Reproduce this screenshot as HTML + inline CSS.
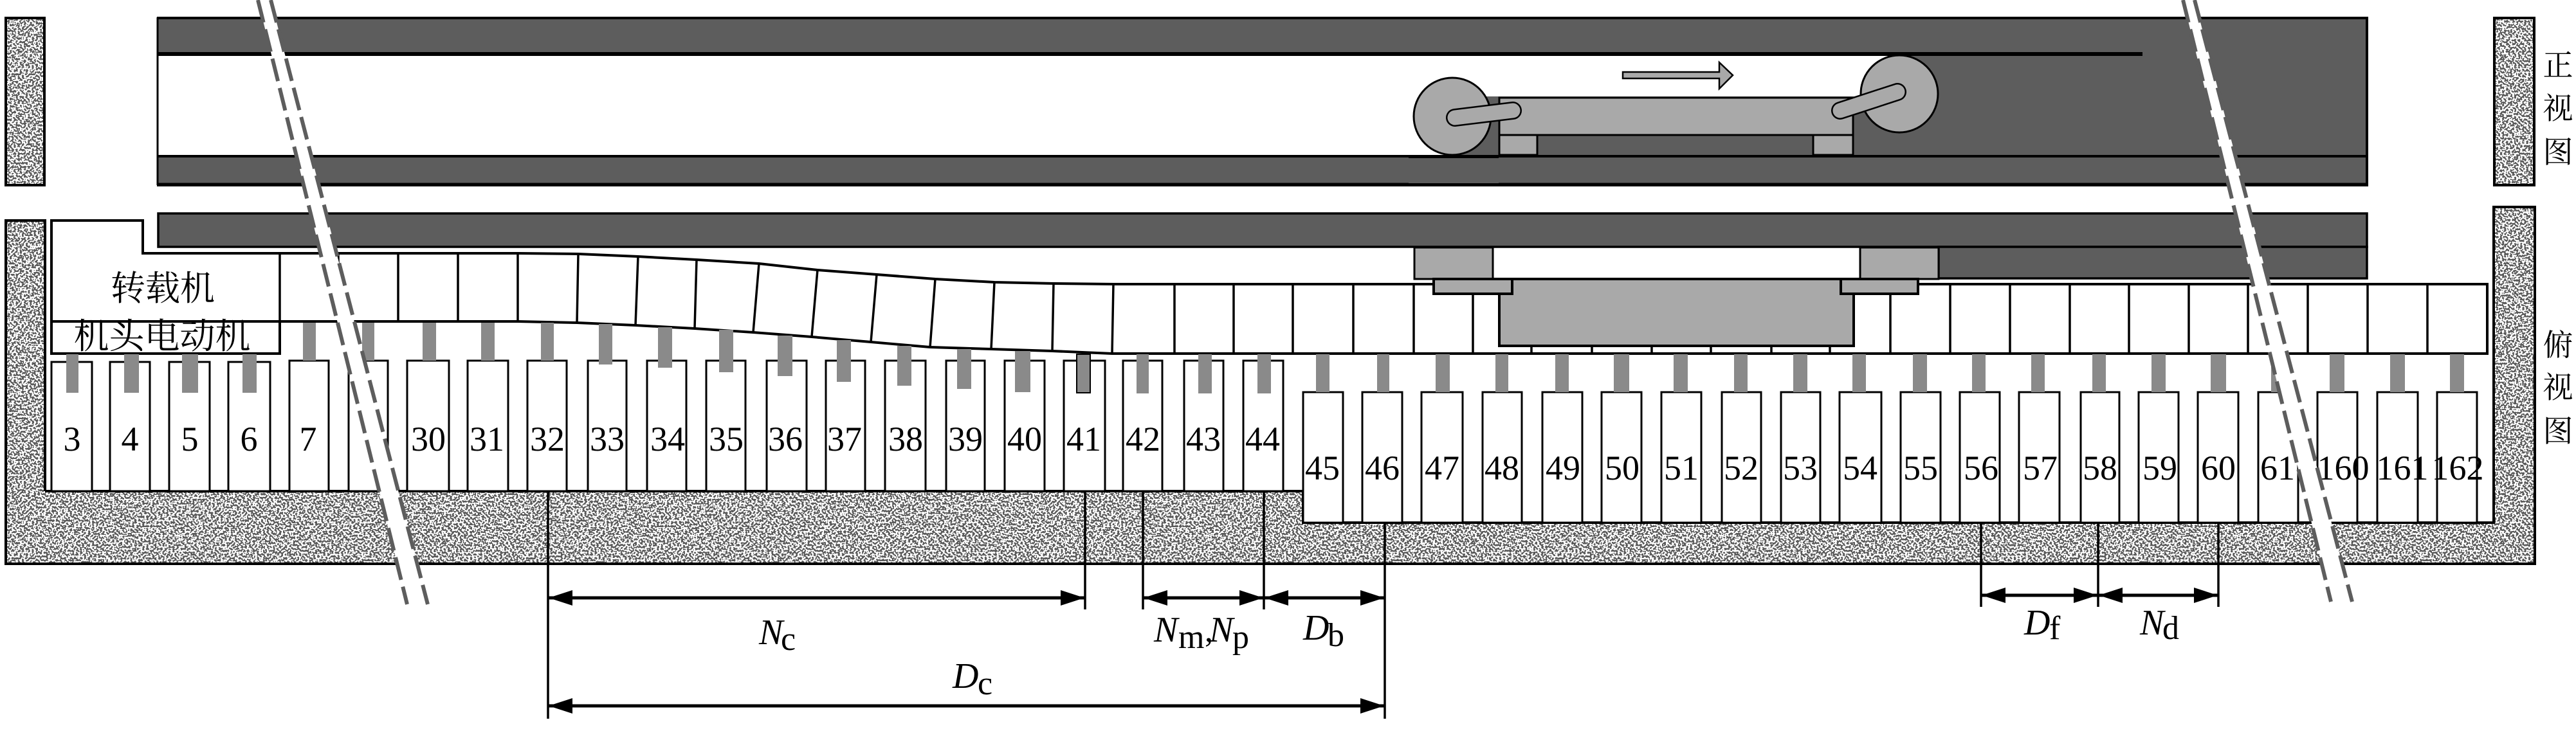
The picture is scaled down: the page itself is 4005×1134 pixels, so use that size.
<!DOCTYPE html>
<html lang="zh">
<head>
<meta charset="utf-8">
<title>Diagram</title>
<style>
html,body{margin:0;padding:0;background:#fff}
svg{display:block}
.n{font-family:"Liberation Serif",serif;font-size:54px;text-anchor:middle;fill:#000}
.i{font-family:"Liberation Serif",serif;font-size:56px;font-style:italic;fill:#000}
.s{font-family:"Liberation Serif",serif;font-size:52px;fill:#000}
.c{font-family:"Liberation Serif","Noto Serif CJK SC",serif;font-size:54px;text-anchor:middle;fill:#000}
.v{font-family:"Liberation Serif","Noto Serif CJK SC",serif;font-size:47px;text-anchor:middle;fill:#000}
</style>
</head>
<body>
<svg xmlns="http://www.w3.org/2000/svg" width="4005" height="1134" viewBox="0 0 4005 1134">
<defs>
<filter id="sp" x="0" y="0" width="100%" height="100%" color-interpolation-filters="sRGB">
<feTurbulence type="fractalNoise" baseFrequency="0.32 0.34" numOctaves="1" seed="7"/>
<feColorMatrix type="matrix" values="1 0 0 0 0 1 0 0 0 0 1 0 0 0 0 0 0 0 0 1"/>
<feComponentTransfer><feFuncR type="discrete" tableValues="0.36 1"/><feFuncG type="discrete" tableValues="0.36 1"/><feFuncB type="discrete" tableValues="0.36 1"/></feComponentTransfer>
</filter>
</defs>
<rect width="4005" height="1134" fill="#fff"/>

<!-- speckled walls -->
<rect x="8" y="27" width="62" height="261" filter="url(#sp)"/>
<rect x="3877" y="27" width="64" height="261" filter="url(#sp)"/>
<rect x="8" y="343" width="62" height="421" filter="url(#sp)"/>
<rect x="3877" y="322" width="64" height="442" filter="url(#sp)"/>
<rect x="8" y="764" width="3933" height="114" filter="url(#sp)"/>
<g fill="none" stroke="#000" stroke-width="4">
<rect x="9" y="28" width="60" height="260"/>
<rect x="3878" y="28" width="62" height="260"/>
</g>
<rect x="2026" y="762" width="1851" height="51" fill="#fff"/>
<path d="M70,764H2026V813H3877V322H3941V877H9V343H70V764" fill="none" stroke="#000" stroke-width="4"/>

<!-- front view -->
<path d="M2960,85H3680V242H2882V150H2895ZM2270,150H2882V242H2270Z" fill="#5d5d5d"/>
<rect x="246" y="28" width="3433" height="57" fill="#5d5d5d"/>
<rect x="246" y="243" width="3433" height="45" fill="#5d5d5d"/>
<path d="M245,27V288" stroke="#000" stroke-width="3" fill="none"/>
<path d="M244,28H3680V288H244" stroke="#000" stroke-width="4" fill="none"/>
<path d="M245,84H3331" stroke="#000" stroke-width="6"/>
<path d="M245,243H3680" stroke="#000" stroke-width="4"/>
<path d="M244,287H3680" stroke="#000" stroke-width="5"/>

<circle cx="2258" cy="181" r="60" fill="#a9a9a9" stroke="#000" stroke-width="3"/>
<circle cx="2953" cy="146" r="60" fill="#a9a9a9" stroke="#000" stroke-width="3"/>
<rect x="2190" y="242" width="140" height="4" fill="#000"/>
<rect x="2190" y="246" width="140" height="40" fill="#5d5d5d"/>
<rect x="2190" y="285" width="140" height="4" fill="#000"/>
<rect x="2331" y="152" width="550" height="58" fill="#a9a9a9" stroke="#000" stroke-width="3"/>
<rect x="2331" y="210" width="59" height="31" fill="#a9a9a9" stroke="#000" stroke-width="3"/>
<rect x="2819" y="210" width="62" height="31" fill="#a9a9a9" stroke="#000" stroke-width="3"/>
<line x1="2262" y1="183" x2="2352" y2="172" stroke="#000" stroke-width="28" stroke-linecap="round"/>
<line x1="2262" y1="183" x2="2352" y2="172" stroke="#a9a9a9" stroke-width="23" stroke-linecap="round"/>
<line x1="2861" y1="172" x2="2950" y2="143" stroke="#000" stroke-width="28" stroke-linecap="round"/>
<line x1="2861" y1="172" x2="2950" y2="143" stroke="#a9a9a9" stroke-width="23" stroke-linecap="round"/>
<polygon points="2523,112 2673,112 2673,97 2694,117 2673,138 2673,122 2523,122" fill="#a9a9a9" stroke="#000" stroke-width="2.5"/>

<!-- plan view band -->
<rect x="246" y="332" width="3434" height="52" fill="#5d5d5d" stroke="#000" stroke-width="3.5"/>
<rect x="3014" y="384" width="666" height="49" fill="#5d5d5d" stroke="#000" stroke-width="3.5"/>

<!-- boxes row 1 -->
<g fill="#fff" stroke="#000" stroke-width="3">
<rect x="80" y="563" width="63" height="201"/><rect x="171" y="563" width="62" height="201"/><rect x="263" y="563" width="63" height="201"/><rect x="355" y="563" width="65" height="201"/>
<rect x="450" y="561" width="61" height="203"/><rect x="542" y="561" width="61" height="203"/><rect x="633" y="561" width="65" height="203"/><rect x="727" y="561" width="63" height="203"/><rect x="820" y="561" width="61" height="203"/><rect x="914" y="561" width="60" height="203"/>
<rect x="1006" y="561" width="61" height="203"/><rect x="1098" y="561" width="61" height="203"/><rect x="1192" y="561" width="62" height="203"/><rect x="1284" y="561" width="61" height="203"/><rect x="1376" y="561" width="63" height="203"/><rect x="1471" y="561" width="60" height="203"/><rect x="1562" y="561" width="62" height="203"/><rect x="1654" y="561" width="64" height="203"/><rect x="1746" y="561" width="61" height="203"/><rect x="1841" y="561" width="61" height="203"/><rect x="1933" y="561" width="62" height="203"/>
<!-- boxes row 2 -->
<rect x="2026" y="610" width="62" height="203"/><rect x="2118" y="610" width="62" height="203"/><rect x="2210" y="610" width="64" height="203"/><rect x="2305" y="610" width="61" height="203"/><rect x="2398" y="610" width="62" height="203"/><rect x="2490" y="610" width="62" height="203"/><rect x="2583" y="610" width="62" height="203"/><rect x="2677" y="610" width="61" height="203"/><rect x="2769" y="610" width="61" height="203"/><rect x="2860" y="610" width="65" height="203"/><rect x="2955" y="610" width="62" height="203"/>
<rect x="3047" y="610" width="62" height="203"/><rect x="3139" y="610" width="63" height="203"/><rect x="3235" y="610" width="60" height="203"/><rect x="3325" y="610" width="62" height="203"/><rect x="3417" y="610" width="63" height="203"/><rect x="3511" y="610" width="62" height="203"/><rect x="3603" y="610" width="62" height="203"/><rect x="3696" y="610" width="63" height="203"/><rect x="3789" y="610" width="62" height="203"/>
</g>

<!-- pans outline -->
<path d="M80,343H222V394H805L899,395L992,399L1083,404L1180,410L1271,420L1363,427L1454,434L1546,439L1638,441L1731,442H3867V550H1729L1636,546L1541,543L1446,540L1354,532L1262,524L1171,517L1080,511L988,506L897,502L805,500H80Z" fill="#fff" stroke="#000" stroke-width="4"/>
<path d="M80,500H435V550H80Z" fill="#fff" stroke="#000" stroke-width="4"/>
<g stroke="#000" stroke-width="3.5" fill="none">
<path d="M435,394V500M526,394V500M619,394V500M712,394V500M805,394V500M899,395L897,502M992,399L988,506M1083,404L1080,511M1180,410L1171,517M1271,420L1262,524M1363,427L1354,532M1454,434L1446,540M1546,439L1541,543M1638,441L1636,546M1731,442L1729,550M1826,442V550M1918,442V550M2010,442V550M2104,442V550M2198,442V550M2290,442V550M2381,442V550M2475,442V550M2568,442V550M2660,442V550M2754,442V550M2845,442V550M2939,442V550M3032,442V550M3125,442V550M3218,442V550M3310,442V550M3403,442V550M3495,442V550M3588,442V550M3681,442V550M3774,442V550"/>
</g>

<!-- gray connectors -->
<g fill="#8a8a8a">
<rect x="103" y="551" width="19" height="60"/><rect x="193" y="551" width="23" height="60"/><rect x="283" y="551" width="25" height="60"/><rect x="377" y="551" width="22" height="60"/>
<rect x="471" y="502" width="20" height="59"/><rect x="563" y="502" width="19" height="59"/><rect x="657" y="502" width="21" height="59"/><rect x="748" y="502" width="21" height="59"/><rect x="841" y="502" width="20" height="59"/><rect x="931" y="504" width="21" height="63"/>
<rect x="1023" y="509" width="22" height="63"/><rect x="1118" y="513" width="22" height="66"/><rect x="1209" y="522" width="23" height="63"/><rect x="1301" y="529" width="22" height="65"/><rect x="1395" y="538" width="22" height="62"/><rect x="1488" y="543" width="22" height="62"/><rect x="1578" y="546" width="24" height="64"/>
<rect x="1674" y="551" width="21" height="60" stroke="#000" stroke-width="2"/><rect x="1767" y="551" width="19" height="61"/><rect x="1863" y="551" width="21" height="61"/><rect x="1955" y="551" width="21" height="61"/>
<rect x="2046" y="551" width="21" height="59"/><rect x="2141" y="551" width="19" height="59"/><rect x="2232" y="551" width="22" height="59"/><rect x="2325" y="551" width="20" height="59"/><rect x="2418" y="551" width="21" height="59"/><rect x="2509" y="551" width="24" height="59"/><rect x="2602" y="551" width="22" height="59"/><rect x="2696" y="551" width="21" height="59"/><rect x="2788" y="551" width="22" height="59"/><rect x="2880" y="551" width="21" height="59"/><rect x="2974" y="551" width="22" height="59"/>
<rect x="3066" y="551" width="21" height="59"/><rect x="3158" y="551" width="21" height="59"/><rect x="3253" y="551" width="21" height="59"/><rect x="3345" y="551" width="22" height="59"/><rect x="3437" y="551" width="24" height="59"/><rect x="3531" y="551" width="17" height="59"/><rect x="3622" y="551" width="23" height="59"/><rect x="3716" y="551" width="23" height="59"/><rect x="3809" y="551" width="22" height="59"/>
</g>

<!-- shearer body, plan view -->
<rect x="2199" y="385" width="122" height="49" fill="#a9a9a9" stroke="#000" stroke-width="3"/>
<rect x="2892" y="385" width="122" height="49" fill="#a9a9a9" stroke="#000" stroke-width="3"/>
<rect x="2331" y="434" width="551" height="104" fill="#a9a9a9" stroke="#000" stroke-width="4"/>
<rect x="2229" y="434" width="122" height="23" fill="#a9a9a9" stroke="#000" stroke-width="4"/>
<rect x="2862" y="434" width="120" height="23" fill="#a9a9a9" stroke="#000" stroke-width="4"/>
<path d="M2321,434H2891" stroke="#000" stroke-width="3.5"/>

<!-- labels -->
<text class="c" x="253" y="467">转载机</text>
<text class="c" x="252" y="542" style="font-size:55px">机头电动机</text>
<text class="v" x="3977" y="118">正</text>
<text class="v" x="3977" y="185">视</text>
<text class="v" x="3977" y="253">图</text>
<text class="v" x="3977" y="553">俯</text>
<text class="v" x="3977" y="619">视</text>
<text class="v" x="3977" y="687">图</text>

<g>
<text class="n" x="112" y="701">3</text><text class="n" x="202" y="701">4</text><text class="n" x="295" y="701">5</text><text class="n" x="387" y="701">6</text><text class="n" x="479" y="701">7</text>
<text class="n" x="666" y="701">30</text><text class="n" x="757" y="701">31</text><text class="n" x="851" y="701">32</text><text class="n" x="944" y="701">33</text><text class="n" x="1038" y="701">34</text><text class="n" x="1129" y="701">35</text><text class="n" x="1221" y="701">36</text><text class="n" x="1313" y="701">37</text><text class="n" x="1408" y="701">38</text><text class="n" x="1501" y="701">39</text><text class="n" x="1593" y="701">40</text><text class="n" x="1685" y="701">41</text><text class="n" x="1777" y="701">42</text><text class="n" x="1871" y="701">43</text><text class="n" x="1963" y="701">44</text>
<text class="n" x="2056" y="746">45</text><text class="n" x="2149" y="746">46</text><text class="n" x="2242" y="746">47</text><text class="n" x="2335" y="746">48</text><text class="n" x="2430" y="746">49</text><text class="n" x="2522" y="746">50</text><text class="n" x="2614" y="746">51</text><text class="n" x="2707" y="746">52</text><text class="n" x="2799" y="746">53</text><text class="n" x="2892" y="746">54</text><text class="n" x="2986" y="746">55</text><text class="n" x="3080" y="746">56</text><text class="n" x="3172" y="746">57</text><text class="n" x="3265" y="746">58</text><text class="n" x="3358" y="746">59</text><text class="n" x="3449" y="746">60</text><text class="n" x="3541" y="746">61</text><text class="n" x="3643" y="746">160</text><text class="n" x="3735" y="746">161</text><text class="n" x="3821" y="746">162</text>
</g>

<!-- dimension lines -->
<g stroke="#000" stroke-width="3.5" fill="none">
<path d="M852,764V1118M1687,764V948M1777,764V948M1965,764V948M2153,813V1118M3080,813V944M3262,813V944M3449,813V944"/>
<path d="M852,930H1687M1777,930H1965M1965,930H2153M852,1098H2153M3080,926H3262M3262,926H3449" stroke-width="5"/>
</g>
<g fill="#000">
<polygon points="853,930 890,918 890,942"/><polygon points="1686,930 1649,918 1649,942"/>
<polygon points="1778,930 1815,918 1815,942"/><polygon points="1964,930 1927,918 1927,942"/>
<polygon points="1966,930 2003,918 2003,942"/><polygon points="2152,930 2115,918 2115,942"/>
<polygon points="853,1098 890,1086 890,1110"/><polygon points="2152,1098 2115,1086 2115,1110"/>
<polygon points="3081,926 3118,914 3118,938"/><polygon points="3261,926 3224,914 3224,938"/>
<polygon points="3263,926 3300,914 3300,938"/><polygon points="3448,926 3411,914 3411,938"/>
</g>
<text class="i" x="1180" y="1002">N</text><text class="s" x="1214" y="1011">c</text>
<text class="i" x="1794" y="998">N</text><text class="s" x="1832" y="1008">m</text><text class="s" x="1873" y="998">,</text><text class="i" x="1880" y="998">N</text><text class="s" x="1916" y="1008">p</text>
<text class="i" x="1481" y="1070">D</text><text class="s" x="1520" y="1080">c</text>
<text class="i" x="2026" y="995">D</text><text class="s" x="2064" y="1005">b</text>
<text class="i" x="3147" y="987">D</text><text class="s" x="3186" y="994">f</text>
<text class="i" x="3327" y="987">N</text><text class="s" x="3362" y="994">d</text>

<!-- break stripes -->
<polygon points="401,0 633,940 665,940 421,0" fill="#fff"/>
<polygon points="3394,0 3624,936 3657,936 3412,0" fill="#fff"/>
<g stroke="#5d5d5d" stroke-width="6" fill="none" stroke-dasharray="36 11">
<path d="M401,0L633,940"/><path d="M421,0L665,940"/>
<path d="M3394,0L3624,936"/><path d="M3412,0L3657,936"/>
</g>
</svg>
</body>
</html>
